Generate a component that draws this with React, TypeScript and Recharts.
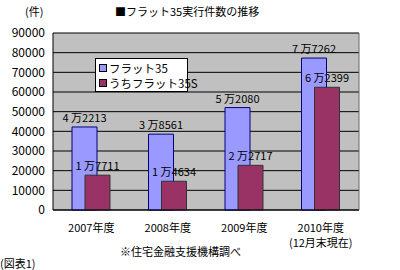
import { BarChart, Bar, XAxis, YAxis, CartesianGrid, LabelList } from "recharts";

const years = ["2007年度", "2008年度", "2009年度", "2010年度"];
const subLabels = ["", "", "", "(12月末現在)"];
const flat35 = [42213, 38561, 52080, 77262];
const flat35s = [17711, 14634, 22717, 62399];
const yTicks = [0, 10000, 20000, 30000, 40000, 50000, 60000, 70000, 80000, 90000];

const data = years.map((y, i) => ({ year: y, a: flat35[i], b: flat35s[i] }));

const FONT = '"Noto Sans CJK JP", "DejaVu Sans", sans-serif';

const fmt = (v: number) => `${Math.floor(v / 10000)} 万${v % 10000}`;

function XTick({ x, y, payload, index }: any) {
  return (
    <g>
      <text x={x} y={y + 14} textAnchor="middle" fontSize={11} fill="#000" fontFamily={FONT}>
        {payload.value}
      </text>
      {subLabels[index] ? (
        <text x={x} y={y + 29} textAnchor="middle" fontSize={11} fill="#000" fontFamily={FONT}>
          {subLabels[index]}
        </text>
      ) : null}
    </g>
  );
}

function ValueLabel({ x, y, width, value }: any) {
  return (
    <text x={x + width / 2} y={y - 5} textAnchor="middle" fontSize={11} fill="#000" fontFamily={FONT}>
      {fmt(value)}
    </text>
  );
}

function LegendBox() {
  const items = [
    { name: "フラット35", color: "#9999ff" },
    { name: "うちフラット35S", color: "#993366" },
  ];
  return (
    <div style={{ position: "absolute", left: 95, top: 58, boxSizing: "border-box", background: "#fff", border: "1px solid #000", width: 93, height: 34, padding: "1px 3px", fontSize: 11.5, whiteSpace: "nowrap" }}>
      {items.map((it) => (
        <div key={it.name} style={{ display: "flex", alignItems: "center", height: 15 }}>
          <span style={{ flexShrink: 0, width: 6, height: 6, background: it.color, border: "1px solid #000", marginRight: 2 }} />
          <span>{it.name}</span>
        </div>
      ))}
    </div>
  );
}

export default function App() {
  return (
    <div style={{ position: "relative", width: 400, height: 270, background: "#fff", fontFamily: FONT }}>
      <style>{"body{margin:0}"}</style>
      <div style={{ position: "absolute", left: 25, top: 3, fontSize: 11 }}>(件)</div>
      <div style={{ position: "absolute", left: 115, top: 3, fontSize: 11 }}>■フラット35実行件数の推移</div>
      <BarChart
        width={400}
        height={270}
        data={data}
        margin={{ top: 33, left: 4, right: 40, bottom: 30 }}
        barSize={25}
        barGap={-12}
      >
        <CartesianGrid vertical={false} stroke="#000" fill="#c0c0c0" />
        <XAxis dataKey="year" tickLine={false} axisLine={{ stroke: "#000" }} tick={<XTick />} height={30} interval={0} />
        <YAxis
          domain={[0, 90000]}
          ticks={yTicks}
          interval={0}
          tickLine={false}
          axisLine={{ stroke: "#000" }}
          width={49}
          tick={{ fontSize: 12, fill: "#000", fontFamily: FONT }}
        />
        <YAxis yAxisId="r" orientation="right" domain={[0, 90000]} tick={false} tickLine={false} width={1} axisLine={{ stroke: "#666" }} />
        <Bar dataKey="a" name="フラット35" fill="#9999ff" stroke="#000080" strokeWidth={1} isAnimationActive={false}>
          <LabelList dataKey="a" content={<ValueLabel />} />
        </Bar>
        <Bar dataKey="b" name="うちフラット35S" fill="#993366" stroke="#333" strokeWidth={1} isAnimationActive={false}>
          <LabelList dataKey="b" content={<ValueLabel />} />
        </Bar>
      </BarChart>
      <LegendBox />
      <div style={{ position: "absolute", left: 120, top: 243, fontSize: 11 }}>※住宅金融支援機構調べ</div>
      <div style={{ position: "absolute", left: 0, top: 255, fontSize: 11 }}>(図表1)</div>
    </div>
  );
}
